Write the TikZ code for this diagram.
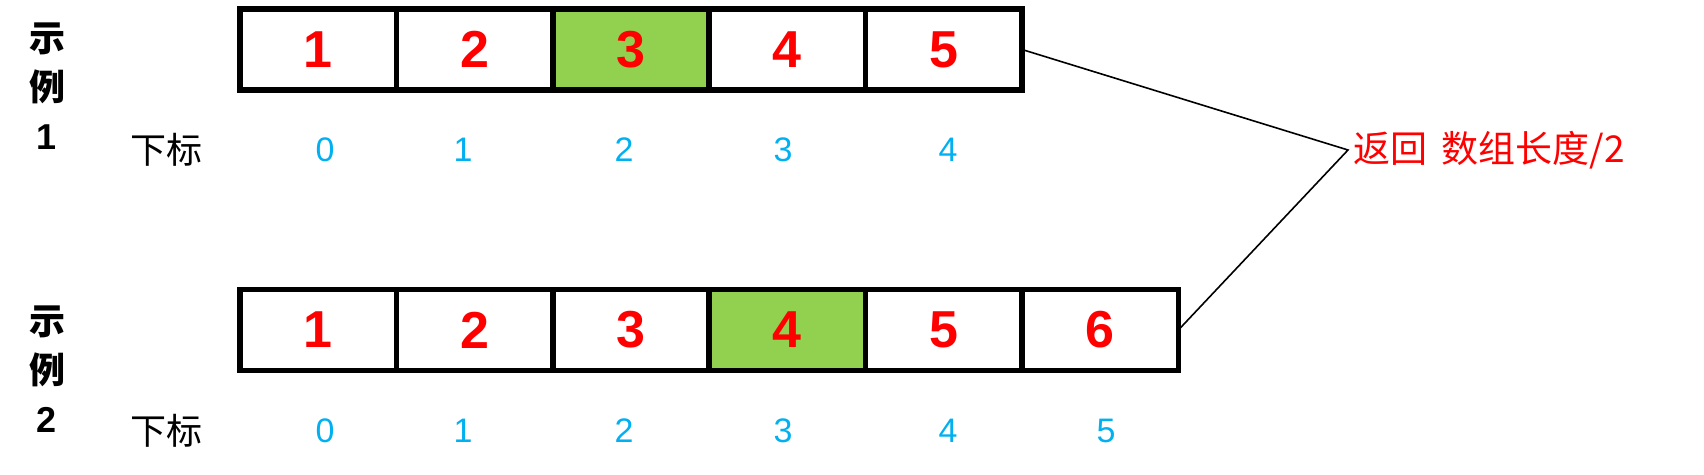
\documentclass[tikz,border=0pt]{standalone}
\usepackage{fontspec}
\setmainfont{Liberation Sans}
\newfontfamily\cjk{Noto Sans CJK SC}
\usepackage{tikz}
\usetikzlibrary{positioning}
\definecolor{red}{RGB}{255, 0, 0}
\definecolor{green}{RGB}{146, 208, 80}
\definecolor{blue}{RGB}{0, 176, 240}
\tikzstyle{cell} = [rectangle, draw=black, line width=2.8pt, outer sep=0pt, inner sep=0pt, fill=white, text=red, font=\bfseries\fontsize{26}{30}\selectfont, minimum width=78.2pt, minimum height=40.5pt]
\tikzstyle{midcell} = [cell, fill=green]
\tikzstyle{idx} = [text=blue, font=\fontsize{17}{20}\selectfont]
\tikzstyle{tag} = [text=black, font=\cjk\fontsize{18}{22}\selectfont]
\tikzstyle{exlabel} = [align=center, text=black, font=\cjk\bfseries\fontsize{18}{24.5}\selectfont]
\tikzstyle{tline} = [draw, line width=0.8pt]

\begin{document}
\begin{tikzpicture}[x=0.5pt, y=-0.5pt]
\useasboundingbox (0,0) rectangle (1704,475);

% example 1 =============================

\node[exlabel] (ex1) at (47,86) {示\\例\\{\rmfamily 1}};
\node[cell] (a1) at (318.2,49.5) {1};
\node[cell, right=0pt of a1] (a2) {2};
\node[midcell, right=0pt of a2] (a3) {3};
\node[cell, right=0pt of a3] (a4) {4};
\node[cell, right=0pt of a4] (a5) {5};

% indices
\node[tag] (sub1) at (166,150) {下标};
\node[idx] (i10) at (325,150) {0};
\node[idx] (i11) at (463,150) {1};
\node[idx] (i12) at (624,150) {2};
\node[idx] (i13) at (783,150) {3};
\node[idx] (i14) at (948,150) {4};

% example 2 =============================

\node[exlabel] (ex2) at (47,369) {示\\例\\{\rmfamily 2}};
\node[cell] (b1) at (318.2,330) {1};
\node[cell, right=0pt of b1] (b2) {2};
\node[cell, right=0pt of b2] (b3) {3};
\node[midcell, right=0pt of b3] (b4) {4};
\node[cell, right=0pt of b4] (b5) {5};
\node[cell, right=0pt of b5] (b6) {6};

% indices
\node[tag] (sub2) at (166,431) {下标};
\node[idx] (i20) at (325,431) {0};
\node[idx] (i21) at (463,431) {1};
\node[idx] (i22) at (624,431) {2};
\node[idx] (i23) at (783,431) {3};
\node[idx] (i24) at (948,431) {4};
\node[idx] (i25) at (1106,431) {5};

% result
\coordinate (apex) at (1348,150);
\node[tag, text=red, font=\cjk\fontsize{18.5}{22}\selectfont, right=-1pt of apex] (ret) {返回\hspace{0.4em}数组长度/2};

%edges
\path[tline] (a5.east) -- (apex) -- (b6.east);

\end{tikzpicture}
\end{document}
